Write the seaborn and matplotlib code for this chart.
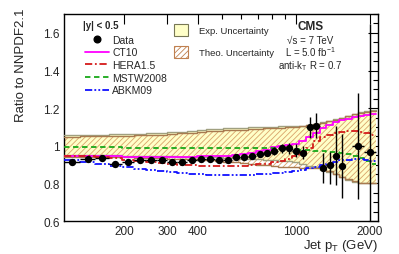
import numpy as np
import pandas as pd
import matplotlib
matplotlib.use("Agg")
import matplotlib.pyplot as plt
from matplotlib.lines import Line2D
from matplotlib.patches import Patch
import seaborn as sns

# ---------------- data ----------------
# data bins (GeV)
data_lo = [114, 133, 153, 174, 196, 220, 245, 272, 300, 330, 362, 395, 430, 468, 507, 548, 592,
           638, 686, 737, 790, 846, 905, 967, 1032, 1101, 1172, 1248, 1327, 1410, 1497, 1684, 1890]
data_hi = [133, 153, 174, 196, 220, 245, 272, 300, 330, 362, 395, 430, 468, 507, 548, 592, 638,
           686, 737, 790, 846, 905, 967, 1032, 1101, 1172, 1248, 1327, 1410, 1497, 1588, 1890, 2116]
data_ratio = [0.913, 0.932, 0.934, 0.906, 0.913, 0.924, 0.922, 0.922, 0.915, 0.915, 0.927, 0.932,
              0.932, 0.927, 0.927, 0.940, 0.941, 0.945, 0.959, 0.963, 0.972, 0.986, 0.986, 0.975,
              0.963, 1.100, 1.105, 0.883, 0.900, 0.948, 0.892, 0.998, 0.966]
data_err_up = [0.006, 0.006, 0.006, 0.006, 0.006, 0.006, 0.006, 0.006, 0.007, 0.007, 0.007, 0.008,
               0.008, 0.009, 0.010, 0.011, 0.012, 0.013, 0.015, 0.017, 0.020, 0.024, 0.028, 0.032,
               0.035, 0.053, 0.071, 0.080, 0.065, 0.157, 0.170, 0.280, 0.680]
data_err_dn = [0.006, 0.006, 0.006, 0.006, 0.006, 0.006, 0.006, 0.006, 0.007, 0.007, 0.007, 0.008,
               0.008, 0.009, 0.010, 0.011, 0.012, 0.013, 0.015, 0.017, 0.020, 0.024, 0.028, 0.032,
               0.035, 0.057, 0.062, 0.080, 0.105, 0.154, 0.170, 0.280, 0.500]

# theory bins (GeV)
theo_edges = [114, 133, 153, 174, 196, 220, 245, 272, 300, 330, 362, 395, 430, 468, 507, 548, 592,
              638, 686, 737, 790, 846, 905, 967, 1032, 1101, 1172, 1248, 1327, 1410, 1497, 1588,
              1684, 1784, 1890, 2000, 2116]
ct10 = [0.945, 0.945, 0.944, 0.944, 0.943, 0.943, 0.943, 0.942, 0.942, 0.942, 0.943, 0.944,
        0.945, 0.946, 0.948, 0.950, 0.955, 0.962, 0.970, 0.980, 0.992, 1.000, 1.005, 1.010,
        1.025, 1.045, 1.070, 1.095, 1.110, 1.125, 1.135, 1.145, 1.155, 1.160, 1.165, 1.168]
hera15 = [0.948, 0.945, 0.940, 0.933, 0.926, 0.920, 0.914, 0.909, 0.904, 0.900, 0.897, 0.894,
          0.892, 0.891, 0.891, 0.892, 0.894, 0.897, 0.901, 0.906, 0.912, 0.920, 0.930, 0.945,
          0.965, 0.990, 1.025, 1.045, 1.058, 1.066, 1.072, 1.077, 1.078, 1.075, 1.068, 1.060]
mstw2008 = [0.995, 0.994, 0.993, 0.992, 0.991, 0.990, 0.989, 0.989, 0.988, 0.988, 0.988, 0.988,
            0.988, 0.988, 0.988, 0.988, 0.988, 0.988, 0.987, 0.987, 0.986, 0.985, 0.983, 0.981,
            0.979, 0.977, 0.975, 0.972, 0.969, 0.966, 0.962, 0.957, 0.948, 0.935, 0.920, 0.905]
abkm09 = [0.925, 0.915, 0.905, 0.895, 0.885, 0.877, 0.870, 0.864, 0.859, 0.855, 0.851, 0.848,
          0.846, 0.845, 0.844, 0.844, 0.845, 0.846, 0.848, 0.850, 0.853, 0.857, 0.862, 0.867,
          0.873, 0.880, 0.888, 0.896, 0.905, 0.915, 0.922, 0.927, 0.930, 0.930, 0.925, 0.918]
exp_hi = [1.058, 1.060, 1.060, 1.062, 1.063, 1.065, 1.067, 1.070, 1.073, 1.076, 1.080, 1.084,
          1.087, 1.090, 1.092, 1.094, 1.096, 1.098, 1.100, 1.101, 1.102, 1.103, 1.104, 1.105,
          1.107, 1.112, 1.118, 1.125, 1.132, 1.140, 1.150, 1.160, 1.170, 1.180, 1.185, 1.188]
exp_lo = [0.950, 0.950, 0.950, 0.949, 0.948, 0.947, 0.946, 0.945, 0.944, 0.943, 0.942, 0.941,
          0.940, 0.938, 0.936, 0.934, 0.932, 0.930, 0.928, 0.926, 0.924, 0.921, 0.918, 0.914,
          0.905, 0.895, 0.885, 0.872, 0.860, 0.850, 0.835, 0.820, 0.810, 0.803, 0.800, 0.800]
theo_hi = [1.048, 1.050, 1.050, 1.052, 1.053, 1.055, 1.057, 1.060, 1.063, 1.066, 1.070, 1.074,
           1.077, 1.080, 1.082, 1.084, 1.086, 1.088, 1.090, 1.092, 1.094, 1.096, 1.098, 1.100,
           1.104, 1.110, 1.116, 1.122, 1.130, 1.138, 1.148, 1.158, 1.168, 1.176, 1.182, 1.185]
theo_lo = [0.940, 0.940, 0.940, 0.939, 0.938, 0.937, 0.936, 0.934, 0.932, 0.930, 0.928, 0.925,
           0.922, 0.919, 0.916, 0.912, 0.908, 0.904, 0.900, 0.896, 0.893, 0.890, 0.888, 0.886,
           0.884, 0.882, 0.880, 0.875, 0.865, 0.852, 0.836, 0.822, 0.812, 0.805, 0.802, 0.802]

x_ticks = [200, 300, 400, 1000, 2000]

# ---------------- style ----------------
sns.set_theme(style="white")
plt.rcParams['font.family'] = ['Liberation Sans', 'DejaVu Sans']
plt.rcParams['mathtext.fontset'] = 'custom'
plt.rcParams['mathtext.rm'] = 'Liberation Sans'
plt.rcParams['mathtext.it'] = 'Liberation Sans:italic'
plt.rcParams['mathtext.bf'] = 'Liberation Sans:bold'
plt.rcParams['hatch.linewidth'] = 0.6

fig = plt.figure(figsize=(3.99, 2.55), dpi=100)
ax = fig.add_axes([0.160, 0.129, 0.787, 0.812])

def step(vals):
    return list(vals) + [vals[-1]]

# bands
yellow = '#ffffc8'
ax.fill_between(theo_edges, step(exp_lo), step(exp_hi), step='post', facecolor=yellow,
                edgecolor='none', zorder=1)
ax.fill_between(theo_edges, step(theo_lo), step(theo_hi), step='post', facecolor='none',
                edgecolor='#d9a36a', hatch='//////', linewidth=0, zorder=2)
for arr, col in [(exp_lo, '#a0a080'), (exp_hi, '#a0a080'), (theo_lo, '#a87a50'), (theo_hi, '#a87a50')]:
    ax.plot(theo_edges, step(arr), drawstyle='steps-post', color=col, lw=1.0, zorder=3)

# theory curves
curves = pd.DataFrame({'edge': theo_edges, 'CT10': step(ct10), 'HERA1.5': step(hera15),
                       'MSTW2008': step(mstw2008), 'ABKM09': step(abkm09)})
styles = {
    'CT10': dict(color='#ff00ff', ls='-'),
    'HERA1.5': dict(color='#d41a1a', ls=(0, (4, 1.5, 1, 1.5))),
    'MSTW2008': dict(color='#18a818', ls=(0, (3, 2))),
    'ABKM09': dict(color='#1010ff', ls=(0, (4, 1.2, 1, 1.2, 1, 1.2))),
}
for name, st in styles.items():
    sns.lineplot(data=curves, x='edge', y=name, ax=ax, drawstyle='steps-post',
                 color=st['color'], linestyle=st['ls'], lw=1.3, zorder=4)

# data
dlo = np.array(data_lo, float)
dhi = np.array(data_hi, float)
dc = np.sqrt(dlo * dhi)
ax.errorbar(dc, data_ratio, yerr=[data_err_dn, data_err_up], xerr=[dc - dlo, dhi - dc],
            fmt='none', ecolor='black', elinewidth=1.0, capsize=0, zorder=5)
sns.scatterplot(x=dc, y=data_ratio, ax=ax, color='black', s=28, edgecolor='black',
                linewidth=0, zorder=6)

# axes
ax.set_xscale('log')
ax.set_xlim(114, 2150)
ax.set_ylim(0.6, 1.7)
ax.set_xticks(x_ticks)
ax.set_xticklabels([str(t) for t in x_ticks])
ax.set_xticks([500, 600, 700, 800, 900], minor=True)
ax.set_xticklabels([], minor=True)
ax.set_yticks([0.6, 0.8, 1.0, 1.2, 1.4, 1.6])
ax.set_yticklabels(['0.6', '0.8', '1', '1.2', '1.4', '1.6'])
ax.set_yticks(np.arange(0.6, 1.701, 0.05), minor=True)
ax.tick_params(which='both', direction='in', top=True, right=True, labelsize=8.5,
               color='black', pad=3)
ax.tick_params(which='major', length=7, width=0.8)
ax.tick_params(which='minor', length=3.5, width=0.8)
for s in ax.spines.values():
    s.set_color('black')
    s.set_linewidth(1.0)

ax.set_xlabel(r'Jet $\mathrm{p_T}$ (GeV)', fontsize=9.5, ha='right', x=1.0, labelpad=0)
ax.set_ylabel('Ratio to NNPDF2.1', fontsize=9.5, ha='right', y=1.03, labelpad=12)

# legends
h1 = [Line2D([], [], marker='o', color='black', ls='none', ms=4.8),
      Line2D([], [], color='#ff00ff', lw=1.3),
      Line2D([], [], color='#d41a1a', lw=1.3, ls=(0, (4, 1.5, 1, 1.5))),
      Line2D([], [], color='#18a818', lw=1.3, ls=(0, (3, 2))),
      Line2D([], [], color='#1010ff', lw=1.3, ls=(0, (4, 1.2, 1, 1.2, 1, 1.2)))]
leg1 = ax.legend(h1, ['Data', 'CT10', 'HERA1.5', 'MSTW2008', 'ABKM09'], loc='upper left',
                 bbox_to_anchor=(0.055, 0.92), frameon=False, fontsize=7.5, handlelength=2.3,
                 labelspacing=0.25, handletextpad=0.3, borderaxespad=0)
ax.add_artist(leg1)
ax.text(0.06, 0.925, '|y| < 0.5', transform=ax.transAxes, fontsize=7, fontweight='bold',
        ha='left', va='bottom')
h2 = [Patch(facecolor=yellow, edgecolor='#777755', lw=0.8),
      Patch(facecolor='white', edgecolor='#c08050', hatch='//////', lw=0.8)]
ax.legend(h2, ['Exp. Uncertainty', 'Theo. Uncertainty'], loc='upper left',
          bbox_to_anchor=(0.34, 0.97), frameon=False, fontsize=6.8, handlelength=1.4,
          handleheight=1.55, labelspacing=1.1, handletextpad=1.2, borderaxespad=0)

ax.text(0.785, 0.928, 'CMS', transform=ax.transAxes, fontsize=8.5, fontweight='bold', ha='center')
ax.text(0.785, 0.86, '\u221as = 7 TeV', transform=ax.transAxes, fontsize=7, ha='center')
ax.text(0.785, 0.797, r'L = 5.0 fb$^{-1}$', transform=ax.transAxes, fontsize=7, ha='center')
ax.text(0.785, 0.74, r'anti-k$_\mathrm{T}$ R = 0.7', transform=ax.transAxes, fontsize=7, ha='center')

fig.savefig('out.png', dpi=100)
